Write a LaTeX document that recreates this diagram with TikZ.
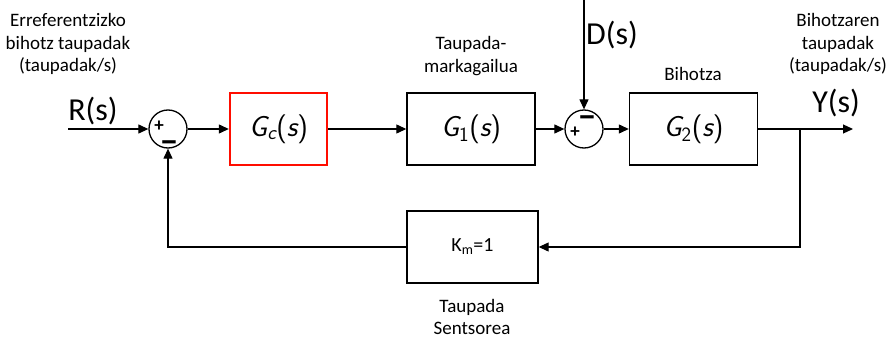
\documentclass[tikz,border=0pt]{standalone}
\usepackage{fontspec}
\usepackage{graphicx}
\setmainfont{Carlito}
\usetikzlibrary{arrows.meta}
\newcommand{\gsf}[2]{{\fontsize{29}{30}\selectfont\sffamily\itshape #1\textsubscript{#2}\upshape(\itshape s\upshape)}}
\newcommand{\bigminus}{\scalebox{1.9}[1.8]{\smash{\raisebox{-0.28em}{\bfseries –}}}}
\tikzset{
  blk/.style={draw, line width=1.4pt, minimum width=128pt, minimum height=72pt, inner sep=0pt},
  redblk/.style={draw=red!90!orange, line width=2.4pt, minimum width=97pt, minimum height=72pt, inner sep=0pt},
  sumj/.style={draw, circle, line width=1.3pt, minimum size=38pt, inner sep=0pt},
  wire/.style={line width=1.2pt},
  arr/.style={wire, -{Triangle[length=10pt,width=9pt]}},
  lbl/.style={align=center, font=\fontsize{19}{22.5}\selectfont},
  sig/.style={font=\fontsize{32}{34}\selectfont},
  pl/.style={font=\fontsize{19}{19}\selectfont\bfseries, inner sep=0pt},
  mn/.style={font=\fontsize{20}{20}\selectfont, inner sep=0pt}
}
\begin{document}
\begin{tikzpicture}[x=1pt,y=-1pt]
\useasboundingbox (0,0) rectangle (889,340);
% nodes
\coordinate (rin) at (68,129);
\node[sumj] (s1) at (168,129) {};
\node[redblk] (gc) at (278.5,129) {\gsf{G}{c}};
\node[blk] (g1) at (471,129) {\gsf{G}{\upshape 1}};
\node[sumj] (s2) at (584,129) {};
\node[blk] (g2) at (693.5,129) {\gsf{G}{\upshape 2}};
\coordinate (yout) at (853,129);
\coordinate (br) at (800,129);
\coordinate (brd) at (800,247);
\node[blk, minimum width=131pt] (km) at (472.5,247) {\fontsize{20}{22}\selectfont K\textsubscript{m}=1};
\coordinate (dtop) at (584,0);
\coordinate (fbl) at (168,247);
% signs
\node[pl] (p1) at (159,126.5) {+};
\node[mn] (m1) at (169,142) {\bigminus};
\node[pl] (p2) at (575,132) {+};
\node[mn] (m2) at (587,117) {\bigminus};
% connectors
\draw[arr] (rin) -- (s1);
\draw[arr] (s1) -- (gc);
\draw[arr] (gc) -- (g1);
\draw[arr] (g1) -- (s2);
\draw[arr] (s2) -- (g2);
\draw[arr] (g2) -- (yout);
\draw[arr] (dtop) -- (s2);
\draw[arr] (br) -- (brd) -- (km);
\draw[arr] (km) -- (fbl) -- (s1);
% labels
\node[sig] (rl) at (93,111) {R(s)};
\node[sig] (dl) at (612,35) {D(s)};
\node[sig] (yl) at (836,103) {Y(s)};
\node[lbl] (l1) at (68,44) {Erreferentzizko\\bihotz taupadak\\(taupadak/s)};
\node[lbl] (l2) at (471,56) {Taupada-\\markagailua};
\node[lbl] (l3) at (693,74) {Bihotza};
\node[lbl] (l4) at (838,44) {Bihotzaren\\taupadak\\(taupadak/s)};
\node[lbl] (l5) at (472,317) {Taupada\\Sentsorea};
\end{tikzpicture}
\end{document}
